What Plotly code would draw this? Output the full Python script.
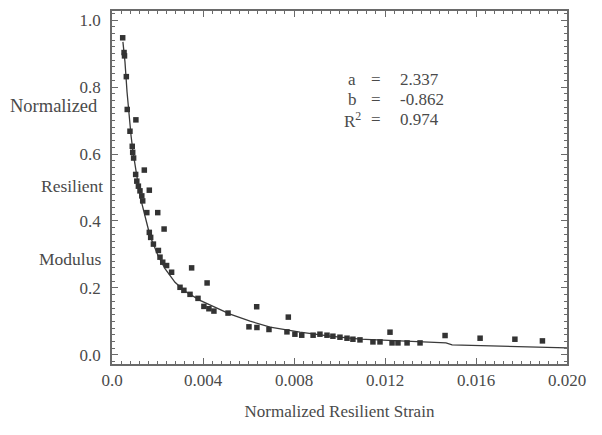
import plotly.graph_objects as go

# measured points (normalized resilient strain, normalized resilient modulus)
strain = [0.00047, 0.00053, 0.00055, 0.00063, 0.00067, 0.00105, 0.00079, 0.00089, 0.00091, 0.00095,
          0.00142, 0.00104, 0.00109, 0.00116, 0.00123, 0.00164, 0.00131, 0.00135, 0.00153, 0.00201,
          0.00229, 0.00164, 0.00170, 0.00182, 0.00204, 0.00211, 0.00223, 0.00240, 0.00262, 0.00350,
          0.00299, 0.00316, 0.00343, 0.00378, 0.00404, 0.00426, 0.00448, 0.00418, 0.00510, 0.00636,
          0.00602, 0.00637, 0.00690, 0.00775, 0.00769, 0.00804, 0.00834, 0.00884, 0.00914, 0.00945,
          0.00971, 0.01002, 0.01033, 0.01059, 0.01090, 0.01147, 0.01178, 0.01222, 0.01231, 0.01257,
          0.01297, 0.01354, 0.01464, 0.01618, 0.01771, 0.01892]
modulus = [0.947, 0.903, 0.893, 0.831, 0.733, 0.702, 0.668, 0.623, 0.605, 0.588,
           0.552, 0.539, 0.519, 0.504, 0.490, 0.492, 0.475, 0.460, 0.425, 0.425,
           0.376, 0.366, 0.351, 0.331, 0.312, 0.292, 0.277, 0.267, 0.247, 0.260,
           0.202, 0.193, 0.181, 0.169, 0.145, 0.138, 0.131, 0.215, 0.125, 0.144,
           0.084, 0.082, 0.076, 0.113, 0.069, 0.062, 0.059, 0.059, 0.062, 0.059,
           0.056, 0.053, 0.050, 0.047, 0.045, 0.039, 0.039, 0.068, 0.036, 0.036,
           0.036, 0.036, 0.058, 0.050, 0.047, 0.042]

# fitted curve
fit_x = [0.00048, 0.00057, 0.00066, 0.00075, 0.00084, 0.00092, 0.00105, 0.00123, 0.00145, 0.00167,
         0.00202, 0.00233, 0.00277, 0.00321, 0.00387, 0.00453, 0.00519, 0.00607, 0.00695, 0.00826,
         0.00958, 0.0109, 0.01266, 0.01468, 0.01495, 0.01771, 0.0200]
fit_y = [0.935, 0.875, 0.786, 0.712, 0.653, 0.608, 0.549, 0.475, 0.415, 0.356,
         0.297, 0.258, 0.217, 0.190, 0.163, 0.142, 0.122, 0.101, 0.083, 0.068,
         0.056, 0.047, 0.042, 0.036, 0.030, 0.024, 0.021]

x_ticks = [0.0, 0.004, 0.008, 0.012, 0.016, 0.020]
x_labels = ["0.0", "0.004", "0.008", "0.012", "0.016", "0.020"]
y_ticks = [0.0, 0.2, 0.4, 0.6, 0.8, 1.0]
y_labels = ["0.0", "0.2", "0.4", "0.6", "0.8", "1.0"]

stat_names = ["a", "b", "R<sup>2</sup>"]
stat_values = ["2.337", "-0.862", "0.974"]
stat_y = [0.822, 0.763, 0.703]

FONT = "Liberation Serif"
TXT = "#4a4a4a"
AX = "#6a6a6a"
F17 = dict(family=FONT, size=17, color=TXT)

fig = go.Figure()
fig.add_trace(go.Scatter(x=fit_x, y=fit_y, mode="lines",
                         line=dict(color="#3a3a3a", width=1.3), showlegend=False, hoverinfo="skip"))
fig.add_trace(go.Scatter(x=strain, y=modulus, mode="markers",
                         marker=dict(symbol="square", size=5.5, color="#333333"), showlegend=False))

for nm, val, yy in zip(stat_names, stat_values, stat_y):
    fig.add_annotation(x=0.01055, y=yy, xref="x", yref="y", text=nm, showarrow=False,
                       font=F17, xanchor="center", yanchor="middle")
    fig.add_annotation(x=0.0116, y=yy, xref="x", yref="y", text="=", showarrow=False,
                       font=F17, xanchor="center", yanchor="middle")
    fig.add_annotation(x=0.01255, y=yy, xref="x", yref="y", text=val, showarrow=False,
                       font=F17, xanchor="left", yanchor="middle")

ylab_words = ["Normalized", "Resilient", "Modulus"]
ylab_x = [-0.128, -0.088, -0.092]
ylab_y = [0.742, 0.504, 0.288]
ylab_size = [18.5, 17.5, 17.5]
for w, xx, yy, sz in zip(ylab_words, ylab_x, ylab_y, ylab_size):
    fig.add_annotation(x=xx, y=yy, xref="paper", yref="y", text=w, showarrow=False,
                       font=dict(family=FONT, size=sz, color=TXT), xanchor="center", yanchor="middle")

# page body has an 8px margin, so the figure is sized/offset to compensate
fig.update_layout(
    width=594, height=427,
    margin=dict(l=104, r=35, t=1, b=71),
    paper_bgcolor="white", plot_bgcolor="white",
    font=F17,
    xaxis=dict(range=[0, 0.02], tickvals=x_ticks, ticktext=x_labels, tickfont=F17,
               showgrid=False, zeroline=False, showline=True, linecolor=AX, linewidth=1.5,
               mirror="allticks", ticks="inside", ticklen=6, tickcolor=AX,
               minor=dict(dtick=0.0004, ticks="inside", ticklen=3, tickcolor=AX, showgrid=False),
               title=dict(text="Normalized Resilient Strain", font=F17, standoff=16)),
    yaxis=dict(range=[-0.027, 1.027], tickvals=y_ticks, ticktext=y_labels, tickfont=F17,
               ticklabelstandoff=6,
               showgrid=False, zeroline=False, showline=True, linecolor=AX, linewidth=1.5,
               mirror="allticks", ticks="inside", ticklen=6, tickcolor=AX,
               minor=dict(dtick=0.02, ticks="inside", ticklen=3, tickcolor=AX, showgrid=False)),
)

fig.write_html("out.html")
